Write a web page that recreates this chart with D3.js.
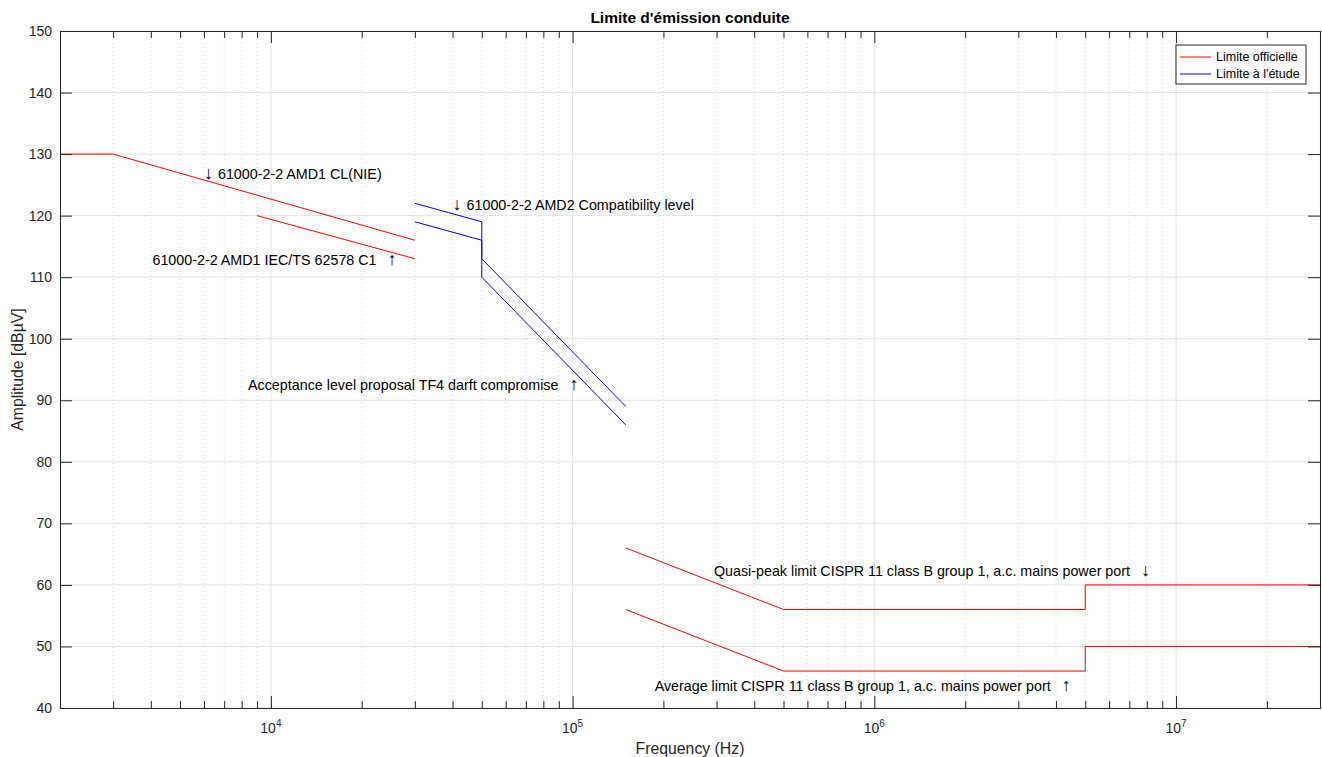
<!DOCTYPE html>
<html>
<head>
<meta charset="utf-8">
<script src="https://cdn.jsdelivr.net/npm/d3@7"></script>
<style>
  body { margin: 0; background: #fff; }
  svg { font-family: "Liberation Sans", Arial, sans-serif; }
</style>
</head>
<body>
<svg id="chart" width="1322" height="757"></svg>
<script>
// official limits (red)
const clNieFreq = [2000, 3000, 30000];
const clNieLevel = [130, 130, 116];
const iecTsFreq = [9000, 30000];
const iecTsLevel = [120, 113];
const quasiPeakFreq = [150000, 500000, 5e6, 5e6, 3e7];
const quasiPeakLevel = [66, 56, 56, 60, 60];
const averageFreq = [150000, 500000, 5e6, 5e6, 3e7];
const averageLevel = [56, 46, 46, 50, 50];
// limits under study (blue)
const amd2Freq = [30000, 50000, 50000, 150000];
const amd2Level = [122, 119, 113, 89];
const tf4Freq = [30000, 50000, 50000, 150000];
const tf4Level = [119, 116, 110, 86];

const yTicks = [40, 50, 60, 70, 80, 90, 100, 110, 120, 130, 140, 150];
const xDecades = [1e4, 1e5, 1e6, 1e7];

// annotation text, arrow before (pre) or after (post) the label
const notes = [
  {f: 6000, v: 126.8, pre: "\u2193", text: "61000-2-2 AMD1 CL(NIE)", post: ""},
  {f: 4050, v: 112.8, pre: "", text: "61000-2-2 AMD1 IEC/TS 62578 C1", post: "\u2191"},
  {f: 40000, v: 121.7, pre: "\u2193", text: "61000-2-2 AMD2 Compatibility level", post: ""},
  {f: 8400, v: 92.5, pre: "", text: "Acceptance level proposal TF4 darft compromise", post: "\u2191"},
  {f: 294000, v: 62.2, pre: "", text: "Quasi-peak limit CISPR 11 class B group 1, a.c. mains power port", post: "\u2193"},
  {f: 187000, v: 43.6, pre: "", text: "Average limit CISPR 11 class B group 1, a.c. mains power port", post: "\u2191"}
];

const svg = d3.select("#chart");
const margin = {top: 31, right: 2, bottom: 49, left: 60};
const width = +svg.attr("width") - margin.left - margin.right;
const height = +svg.attr("height") - margin.top - margin.bottom;
const g = svg.append("g").attr("transform", `translate(${margin.left},${margin.top})`);

const x = d3.scaleLog().domain([2000, 3e7]).range([0, width]);
const y = d3.scaleLinear().domain([40, 150]).range([height, 0]);

// minor ticks for the log axis
const minorTicks = [];
[1e3, 1e4, 1e5, 1e6, 1e7].forEach(d => {
  for (let k = 2; k <= 9; k++) {
    const v = d * k;
    if (v >= 2000 && v <= 3e7) minorTicks.push(v);
  }
});

// grid
g.append("g").selectAll("line").data(minorTicks).join("line")
  .attr("x1", d => x(d)).attr("x2", d => x(d))
  .attr("y1", 0).attr("y2", height)
  .attr("stroke", "#d6d6d6").attr("stroke-dasharray", "1,3");
g.append("g").selectAll("line").data(xDecades).join("line")
  .attr("x1", d => x(d)).attr("x2", d => x(d))
  .attr("y1", 0).attr("y2", height)
  .attr("stroke", "#e3e3e3");
g.append("g").selectAll("line").data(yTicks).join("line")
  .attr("x1", 0).attr("x2", width)
  .attr("y1", d => y(d)).attr("y2", d => y(d))
  .attr("stroke", "#e3e3e3");

// data lines
const line = d3.line().x(d => x(d[0])).y(d => y(d[1]));
const series = [
  {f: clNieFreq, v: clNieLevel, c: "#ff0000"},
  {f: iecTsFreq, v: iecTsLevel, c: "#ff0000"},
  {f: quasiPeakFreq, v: quasiPeakLevel, c: "#ff0000"},
  {f: averageFreq, v: averageLevel, c: "#ff0000"},
  {f: amd2Freq, v: amd2Level, c: "#0000ff"},
  {f: tf4Freq, v: tf4Level, c: "#0000ff"}
];
g.append("g").selectAll("path").data(series).join("path")
  .attr("d", s => line(s.f.map((f, i) => [f, s.v[i]])))
  .attr("fill", "none").attr("stroke", d => d.c).attr("stroke-width", 1);

// axes (MATLAB box style, ticks inward)
const axisColor = "#262626";
g.append("g").attr("transform", `translate(0,${height})`)
  .call(d3.axisBottom(x).tickValues(xDecades).tickSize(-12).tickFormat(""));
g.append("g")
  .call(d3.axisTop(x).tickValues(xDecades).tickSize(-12).tickFormat(""));
g.append("g").attr("transform", `translate(0,${height})`)
  .call(d3.axisBottom(x).tickValues(minorTicks).tickSize(-7).tickFormat(""));
g.append("g")
  .call(d3.axisTop(x).tickValues(minorTicks).tickSize(-7).tickFormat(""));
const yAxisLeft = g.append("g")
  .call(d3.axisLeft(y).tickValues(yTicks).tickSize(-12).tickPadding(8));
g.append("g").attr("transform", `translate(${width},0)`)
  .call(d3.axisRight(y).tickValues(yTicks).tickSize(-12).tickFormat(""));
g.selectAll(".domain").attr("stroke", axisColor);
g.selectAll(".tick line").attr("stroke", axisColor);
yAxisLeft.selectAll("text").attr("font-size", 14).attr("fill", axisColor)
  .attr("font-family", "Liberation Sans, Arial, sans-serif");

// decade labels with superscript exponent
const xl = g.append("g").selectAll("text").data(xDecades).join("text")
  .attr("x", d => x(d)).attr("y", height + 25)
  .attr("text-anchor", "middle").attr("fill", axisColor).attr("font-size", 14);
xl.append("tspan").text("10");
xl.append("tspan").attr("dy", -6).attr("font-size", 10).text(d => Math.round(Math.log10(d)));

// annotations
const nt = g.append("g").selectAll("text").data(notes).join("text")
  .attr("x", d => x(d.f)).attr("y", d => y(d.v))
  .attr("dy", "0.35em").attr("font-size", 14.3).attr("fill", "#000");
nt.filter(d => d.pre).append("tspan").attr("font-size", 18).text(d => d.pre);
nt.append("tspan").attr("dx", d => d.pre ? 5 : 0).text(d => d.text);
nt.filter(d => d.post).append("tspan").attr("font-size", 18).attr("dx", 11).text(d => d.post);

// title and axis labels
svg.append("text").attr("x", margin.left + width / 2).attr("y", 23)
  .attr("text-anchor", "middle").attr("font-weight", "bold").attr("font-size", 15.5)
  .attr("fill", "#000").text("Limite d'émission conduite");
svg.append("text").attr("x", margin.left + width / 2).attr("y", 754)
  .attr("text-anchor", "middle").attr("font-size", 15.8).attr("fill", axisColor)
  .text("Frequency (Hz)");
svg.append("text").attr("transform", `translate(23,${margin.top + height / 2}) rotate(-90)`)
  .attr("text-anchor", "middle").attr("font-size", 15.8).attr("fill", axisColor)
  .text("Amplitude [dBµV]");

// legend
const legendItems = [
  {label: "Limite officielle", c: "#ff0000"},
  {label: "Limite à l'étude", c: "#0000ff"}
];
const lg = svg.append("g").attr("transform", "translate(1176,45)");
lg.append("rect").attr("width", 130).attr("height", 39)
  .attr("fill", "#fff").attr("stroke", axisColor).attr("stroke-width", 1);
const li = lg.selectAll("g").data(legendItems).join("g")
  .attr("transform", (d, i) => `translate(0,${12 + i * 17})`);
li.append("line").attr("x1", 4).attr("x2", 35).attr("stroke", d => d.c);
li.append("text").attr("x", 40).attr("dy", "0.35em").attr("font-size", 12.5)
  .attr("fill", "#000").text(d => d.label);
</script>
</body>
</html>
